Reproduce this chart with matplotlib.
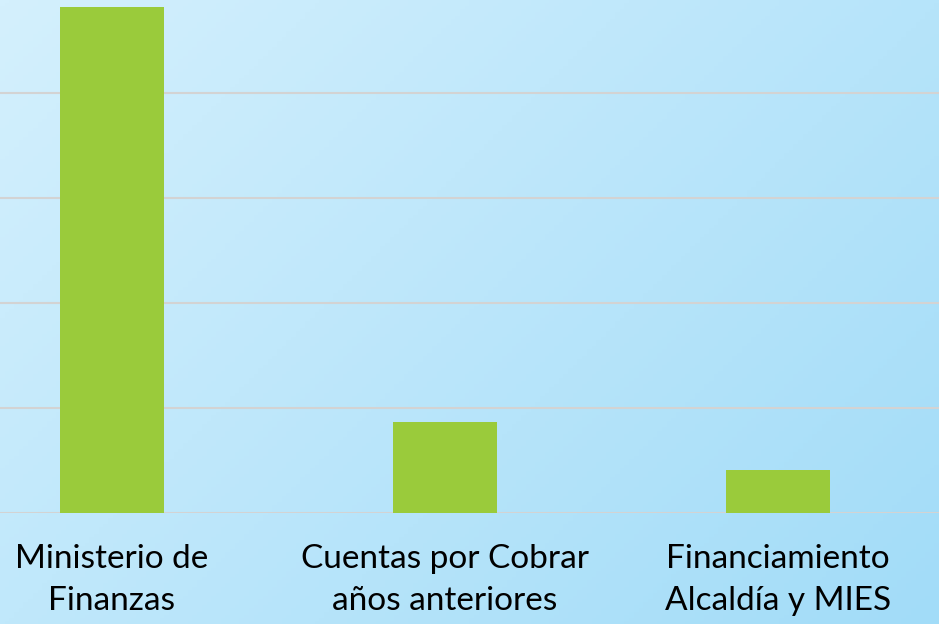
import numpy as np
import matplotlib.pyplot as plt
from matplotlib.colors import LinearSegmentedColormap

categories = ["Ministerio de\nFinanzas", "Cuentas por Cobrar\naños anteriores",
              "Financiamiento\nAlcaldía y MIES"]
values = [4.82, 0.87, 0.41]
grid_levels = [0, 1, 2, 3, 4]

fig = plt.figure(figsize=(9.39, 6.24), dpi=100)

# gradient background
bg = fig.add_axes([0, 0, 1, 1])
gx, gy = np.meshgrid(np.linspace(0, 1, 200), np.linspace(0, 1, 200))
grad = (gx * 0.6 + gy * 0.4)
cmap = LinearSegmentedColormap.from_list("bg", ["#d4f0fd", "#a2dcf8"])
bg.imshow(grad, cmap=cmap, aspect="auto", extent=[0, 1, 0, 1], origin="upper")
bg.set_axis_off()

ax = fig.add_axes([0, 1 - 513 / 624, 1, 513 / 624])
ax.patch.set_alpha(0)
x = np.arange(len(categories))
ax.bar(x, values, width=0.312, color="#9acb3b", zorder=3)
for g in grid_levels:
    ax.axhline(g, color="#d3d3d3", lw=1.5, zorder=1)
ax.set_xlim(-0.336, 2.484)
ax.set_ylim(0, 513 / 105)
ax.set_xticks(x)
ax.set_xticklabels(categories, fontsize=24, family="Lato", linespacing=1.5)
ax.tick_params(axis="x", length=0, pad=22)
ax.set_yticks([])
for s in ax.spines.values():
    s.set_visible(False)

fig.savefig("out.png", dpi=100)
